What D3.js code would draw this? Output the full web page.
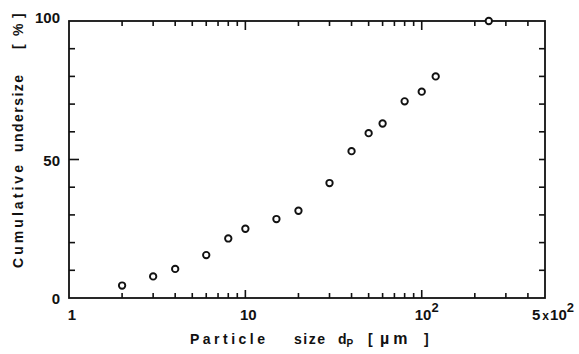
<!DOCTYPE html>
<html><head><meta charset="utf-8">
<script src="https://cdn.jsdelivr.net/npm/d3@7"></script>
<style>body{margin:0;background:#fff}svg{display:block}text{font-family:"Liberation Sans",Arial,sans-serif;fill:#111}</style>
</head><body><div id="c"></div>
<script>
const sizes = [2, 3, 4, 6, 8, 10, 15, 20, 30, 40, 50, 60, 80, 100, 120, 240];
const undersize = [4.5, 7.8, 10.5, 15.5, 21.5, 25, 28.5, 31.5, 41.5, 53, 59.5, 63, 71, 74.5, 80, 100];
const xMajor = [1, 10, 100];
const xMinor = [2,3,4,5,6,7,8,9,20,30,40,50,60,70,80,90,200,300,400];
const yMajor = [0, 50, 100];
const yMinor = [10,20,30,40,60,70,80,90];

const W = 579, H = 354;
const L = 69, R = 545, T = 21, B = 298;
const svg = d3.select("#c").append("svg").attr("width", W).attr("height", H);
const x = d3.scaleLog().domain([1, 500]).range([L, R]);
const y = d3.scaleLinear().domain([0, 100]).range([B, T]);

const g = svg.append("g").attr("stroke", "#111").attr("stroke-width", 1.6);
svg.append("rect").attr("x", L).attr("y", T).attr("width", R - L).attr("height", B - T)
  .attr("fill", "none").attr("stroke", "#111").attr("stroke-width", 1.8);

g.selectAll(".bt").data(xMinor).join("line")
  .attr("x1", d => x(d)).attr("x2", d => x(d)).attr("y1", B).attr("y2", B - 5);
g.selectAll(".bT").data(xMajor.slice(1)).join("line")
  .attr("x1", d => x(d)).attr("x2", d => x(d)).attr("y1", B).attr("y2", B - 8);
g.selectAll(".tt").data(xMinor).join("line")
  .attr("x1", d => x(d)).attr("x2", d => x(d)).attr("y1", T).attr("y2", T + 5);
g.selectAll(".tT").data(xMajor.slice(1)).join("line")
  .attr("x1", d => x(d)).attr("x2", d => x(d)).attr("y1", T).attr("y2", T + 9);
g.selectAll(".lt").data(yMinor).join("line")
  .attr("x1", L).attr("x2", L + 6).attr("y1", d => y(d)).attr("y2", d => y(d));
g.selectAll(".lT").data([50]).join("line")
  .attr("x1", L).attr("x2", L + 10).attr("y1", d => y(d)).attr("y2", d => y(d));
g.selectAll(".rt").data(yMinor.concat([50])).join("line")
  .attr("x1", R).attr("x2", R - 6).attr("y1", d => y(d)).attr("y2", d => y(d));

svg.selectAll(".yl").data(yMajor).join("text")
  .attr("x", 60).attr("y", d => y(d) + (d === 100 ? 2 : 6)).attr("text-anchor", "end")
  .attr("font-size", 15).attr("font-weight", "bold").text(d => d);

const XB = 320;
const xl = svg.append("g").attr("font-size", 15).attr("font-weight", "bold");
xl.append("text").attr("x", x(1) + 3).attr("y", XB).attr("text-anchor", "middle").text("1");
xl.append("text").attr("x", x(10) + 3).attr("y", XB).attr("text-anchor", "middle").text("10");
const t100 = xl.append("text").attr("x", x(100) + 5).attr("y", XB).attr("text-anchor", "middle");
t100.append("tspan").text("10");
t100.append("tspan").attr("dy", -8).attr("font-size", 13).text("2");
const t500 = xl.append("text").attr("x", x(500) + 8).attr("y", XB).attr("text-anchor", "middle");
t500.append("tspan").text("5");
t500.append("tspan").attr("font-size", 12).attr("dx", 2).text("x");
t500.append("tspan").attr("dx", 1).text("10");
t500.append("tspan").attr("dy", -8).attr("font-size", 13).text("2");

// x axis title
const xtg = svg.append("g").attr("font-size", 14).attr("font-weight", "bold");
xtg.append("text").attr("x", 190).attr("y", 344).attr("textLength", 75).attr("lengthAdjust", "spacing").text("Particle");
xtg.append("text").attr("x", 294).attr("y", 344).attr("textLength", 31).attr("lengthAdjust", "spacing").text("size");
const dp = xtg.append("text").attr("x", 338).attr("y", 344);
dp.append("tspan").text("d");
dp.append("tspan").attr("dy", 3).attr("font-size", 10).text("P");
xtg.append("text").attr("x", 368).attr("y", 344).text("[");
xtg.append("text").attr("x", 380).attr("y", 344).attr("font-size", 16).attr("letter-spacing", 4).text("µm");
xtg.append("text").attr("x", 424).attr("y", 344).text("]");

// y axis title
const ytg = svg.append("g").attr("font-size", 14).attr("font-weight", "bold");
ytg.append("text").attr("transform", "translate(23,268) rotate(-90)").attr("textLength", 103).attr("lengthAdjust", "spacing").text("Cumulative");
ytg.append("text").attr("transform", "translate(23,152) rotate(-90)").attr("textLength", 77).attr("lengthAdjust", "spacing").text("undersize");
ytg.append("text").attr("transform", "translate(23,49) rotate(-90)").text("[");
ytg.append("text").attr("transform", "translate(23,36) rotate(-90)").text("%");
ytg.append("text").attr("transform", "translate(23,18) rotate(-90)").text("]");

svg.selectAll(".pt").data(sizes).join("circle")
  .attr("cx", d => x(d)).attr("cy", (d, i) => y(undersize[i])).attr("r", 3.2)
  .attr("fill", "#fff").attr("stroke", "#111").attr("stroke-width", 1.9);
</script></body></html>
